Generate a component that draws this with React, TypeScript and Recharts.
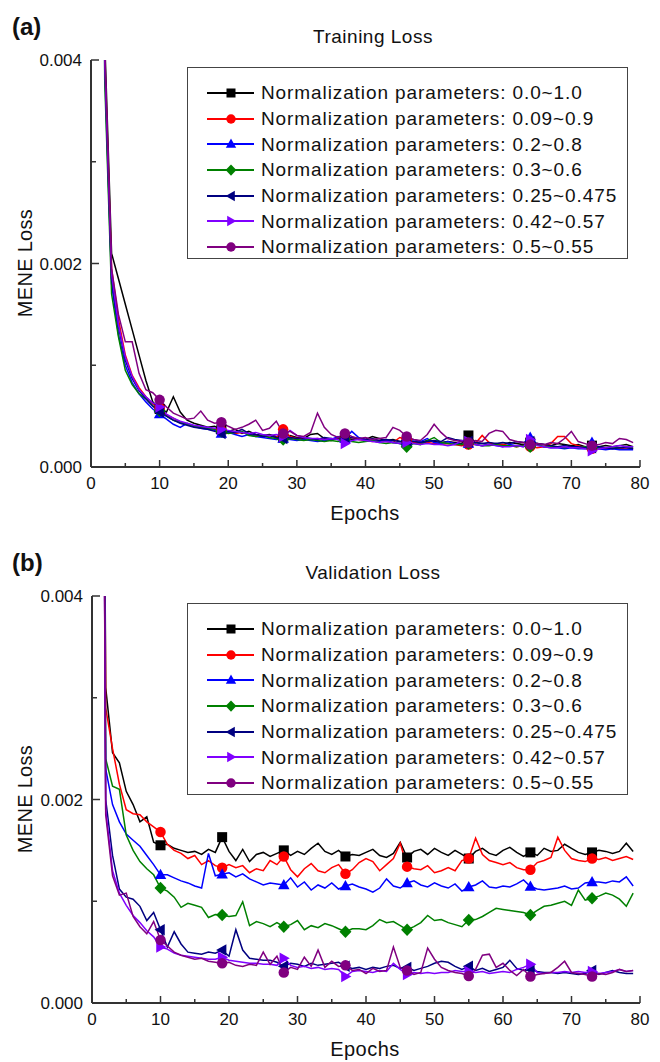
import { LineChart, Line, XAxis, YAxis, Legend } from "recharts";

const FONT = '"Liberation Sans", Arial, sans-serif';
const AXIS = "#333";

const SERIES_NAMES = [
  "Normalization parameters: 0.0~1.0",
  "Normalization parameters: 0.09~0.9",
  "Normalization parameters: 0.2~0.8",
  "Normalization parameters: 0.3~0.6",
  "Normalization parameters: 0.25~0.475",
  "Normalization parameters: 0.42~0.57",
  "Normalization parameters: 0.5~0.55",
];
const SERIES_COLORS = ["#000000", "#ff0000", "#0000ff", "#008000", "#000080", "#8000ff", "#800080"];
const SERIES_SHAPES = ["square", "circle", "triUp", "diamond", "triLeft", "triRight", "hex"];

// markers are only drawn every 9th epoch
const MARKER_EPOCHS = [10, 19, 28, 37, 46, 55, 64, 73];
const X_TICKS = [0, 5, 10, 15, 20, 25, 30, 35, 40, 45, 50, 55, 60, 65, 70, 75, 80];
const Y_TICKS = [0, 10, 20, 30, 40]; // units of 1e-4

// training loss, x1e-4, epochs 1..79
const TRAIN_00_10 = [
  150, 42, 21, 18.5, 16, 13.5, 11, 8.5, 6.4, 5.7,
  5.4, 6.9, 5.4, 4.6, 4.3, 4.1, 3.9, 4.0, 3.7, 3.5,
  3.7, 3.3, 3.5, 3.2, 3.1, 3.2, 3.0, 2.9, 3.1, 2.9,
  2.8, 3.2, 3.3, 2.8, 2.7, 2.8, 2.9, 2.7, 2.8, 2.7,
  3.0, 2.8, 2.6, 2.7, 2.5, 2.4, 2.5, 2.4, 2.6, 2.5,
  2.4, 2.5, 2.4, 2.3, 3.1, 2.4, 2.3, 2.2, 2.3, 2.2,
  2.4, 2.3, 2.2, 2.4, 2.3, 2.2, 2.1, 2.3, 2.2, 2.1,
  2.2, 2.0, 2.1, 2.0, 2.1, 2.0, 2.1, 2.2, 2.0,
];
const TRAIN_009_09 = [
  150, 40, 19.5, 14.5, 11, 9, 7.8, 6.9, 6.2, 5.8,
  5.1, 4.8, 4.4, 4.2, 4.0, 3.9, 3.8, 3.7, 3.6, 3.4,
  3.3, 3.4, 3.2, 3.1, 3.0, 3.1, 2.9, 3.7, 3.0, 2.8,
  2.9, 2.7, 2.8, 2.7, 2.6, 2.9, 2.7, 2.9, 2.7, 2.6,
  2.5, 2.6, 2.5, 2.4, 2.9, 2.7, 2.4, 2.3, 2.4, 2.3,
  2.2, 2.3, 2.2, 2.1, 2.2, 2.3, 3.1, 2.4, 2.2, 2.2,
  2.1, 2.0, 2.1, 2.0, 1.9, 2.0, 2.3, 3.0, 3.0, 2.3,
  2.1, 1.9, 1.8, 1.8, 1.8, 1.9, 1.8, 1.9, 1.8,
];
const TRAIN_02_08 = [
  150, 39, 18, 13, 10, 8.3, 7.2, 6.4, 5.7, 5.2,
  4.7, 4.2, 3.9, 4.3, 4.0, 3.8, 3.7, 3.6, 3.3, 3.4,
  3.2, 3.0, 3.2, 3.0, 2.9, 2.8, 2.7, 2.8, 2.7, 2.6,
  2.7, 2.6, 2.5, 2.6, 2.7, 3.0, 2.8, 3.5, 2.9, 2.7,
  2.6, 2.5, 2.7, 2.4, 2.3, 2.5, 2.7, 2.5, 2.8, 2.4,
  2.3, 2.5, 2.3, 2.2, 2.3, 2.2, 2.1, 2.2, 2.1, 2.0,
  2.2, 2.1, 2.0, 2.9, 2.2, 2.0, 1.9, 1.9, 1.8, 1.9,
  1.8, 1.8, 2.4, 1.8, 1.7, 1.8, 1.7, 1.7, 1.7,
];
const TRAIN_03_06 = [
  150, 38, 17, 12.8, 9.5, 8.1, 7.2, 6.7, 6.0, 5.5,
  5.0, 4.6, 4.4, 4.2, 4.0, 3.9, 3.8, 3.7, 3.5, 3.3,
  3.4, 3.5, 3.1, 3.0, 3.1, 2.9, 2.8, 2.7, 2.8, 2.7,
  2.6, 2.7, 2.6, 2.5, 2.6, 2.5, 2.7, 2.5, 2.4, 2.5,
  2.6, 2.4, 2.3, 2.4, 2.3, 2.0, 2.3, 2.2, 2.6, 2.9,
  2.4, 2.3, 2.2, 2.2, 2.3, 2.2, 2.1, 2.1, 2.2, 2.1,
  2.1, 2.0, 2.1, 2.0, 2.2, 2.0, 2.0, 2.0, 1.9, 2.0,
  1.9, 2.0, 1.9, 1.9, 1.9, 1.9, 1.9, 2.0, 1.9,
];
const TRAIN_025_0475 = [
  150, 40, 18.5, 13.8, 10.5, 8.7, 7.5, 6.7, 6.0, 5.4,
  5.0, 4.6, 4.3, 4.1, 3.9, 3.8, 3.7, 3.5, 3.3, 3.5,
  3.4, 3.7, 3.3, 3.2, 3.0, 3.1, 2.9, 2.8, 2.9, 2.8,
  2.9, 2.8, 2.7, 2.9, 2.8, 2.7, 2.8, 2.9, 2.8, 2.7,
  2.8, 2.6, 2.7, 2.6, 2.5, 2.6, 2.5, 2.4, 2.5, 2.6,
  2.5, 2.9, 2.7, 2.6, 2.5, 2.4, 2.3, 2.4, 2.3, 2.4,
  2.3, 2.5, 2.4, 2.5, 2.3, 2.2, 2.1, 2.0, 2.1, 2.0,
  2.0, 1.9, 1.9, 2.0, 1.9, 1.8, 1.9, 1.9, 1.8,
];
const TRAIN_042_057 = [
  150, 40, 19, 14, 10.8, 8.9, 7.6, 6.9, 6.3, 5.9,
  5.2, 4.8, 4.5, 4.3, 4.1, 4.0, 3.9, 3.8, 3.7, 3.6,
  3.5, 3.4, 3.3, 3.4, 3.2, 3.1, 3.2, 3.0, 3.6, 3.1,
  2.9, 2.8, 2.8, 2.7, 2.8, 2.7, 2.3, 2.6, 2.7, 2.6,
  2.5, 2.4, 2.5, 2.4, 2.3, 2.4, 2.3, 2.2, 2.3, 2.2,
  2.2, 2.1, 2.2, 2.6, 2.5, 2.2, 2.1, 2.2, 2.1, 2.0,
  2.0, 2.1, 2.0, 2.7, 2.1, 2.0, 1.9, 1.9, 2.0, 1.9,
  1.9, 1.8, 1.6, 1.8, 1.9, 2.0, 2.1, 2.0, 2.0,
];
const TRAIN_05_055 = [
  150, 41, 19.5, 15, 12.3, 12.3, 9.2, 7.6, 7.3, 6.6,
  5.9, 5.3, 5.0, 4.7, 4.8, 5.5, 4.6, 4.3, 4.4, 4.0,
  3.7, 3.9, 4.2, 4.6, 3.6, 3.8, 4.5, 3.3, 3.5, 3.1,
  3.0, 3.4, 5.3, 3.9, 3.2, 2.9, 3.3, 3.0, 2.8, 2.9,
  2.7, 2.8, 2.9, 3.9, 3.6, 3.0, 2.7, 2.6, 3.2, 4.2,
  3.4, 2.8, 2.6, 2.5, 2.4, 2.6, 2.5, 3.3, 3.6, 3.5,
  2.7, 2.5, 2.4, 2.2, 2.3, 2.2, 2.4, 2.3, 2.8, 3.5,
  2.5, 2.3, 2.1, 2.2, 2.4, 2.3, 2.8, 2.7, 2.4,
];

// validation loss, x1e-4, epochs 1..79
const VAL_00_10 = [
  150, 31, 24.6, 23.6, 20.8, 19.5, 17.8, 18.3, 15.8, 15.5,
  15.6, 15.2, 15.0, 14.8, 14.9, 14.6, 15.1, 14.8, 16.3, 14.9,
  14.0, 15.1, 13.9, 14.6, 14.8, 14.4, 14.7, 15.0, 14.5, 14.9,
  14.6, 15.2, 15.7, 14.9, 14.6, 15.0, 14.4, 14.6, 14.5, 14.8,
  15.1, 14.5, 14.3, 14.7, 15.8, 14.3, 14.9, 15.1, 14.6, 15.2,
  14.8, 14.5, 15.0, 14.6, 14.2, 14.9, 15.2, 14.7, 14.5, 15.0,
  15.3, 14.8, 14.4, 14.8, 14.5, 15.2, 14.9, 15.0, 15.6, 15.2,
  14.8, 14.6, 14.8, 15.0, 14.9, 14.7, 14.9, 15.7, 14.9,
];
const VAL_009_09 = [
  150, 29, 25, 21.5, 19, 18.6, 18.5, 17.8, 17.3, 16.8,
  15.6, 15.0, 14.7, 14.2, 14.5, 13.6, 14.0, 13.5, 13.3, 13.6,
  13.3, 13.5, 12.8, 13.2, 13.0, 14.0, 13.6, 14.4, 13.1, 12.4,
  13.2, 13.7, 13.0, 12.8, 13.3, 13.6, 12.7, 13.1, 13.8, 14.2,
  13.9, 13.0, 13.6, 14.2, 15.7, 13.4, 13.2, 13.1, 13.5, 12.8,
  13.0, 13.3, 13.0, 14.0, 14.2, 16.2, 14.6, 14.0, 13.8, 13.6,
  13.8, 13.3, 13.1, 13.1, 13.8, 14.0, 14.3, 16.3, 15.0, 14.2,
  14.0, 13.9, 14.2, 14.1, 14.3, 14.0, 14.2, 14.4, 14.1,
];
const VAL_02_08 = [
  150, 23, 19.5, 17.8, 16.6, 16.0, 15.4, 14.5, 13.6, 12.6,
  12.6, 12.3, 12.0, 11.8, 11.5, 11.3, 14.7, 12.5, 12.65, 12.8,
  12.4, 12.7, 12.2, 11.9, 11.6, 11.8, 11.7, 11.6, 12.3, 11.4,
  11.9, 11.1, 11.6, 11.3, 11.8, 11.2, 11.5, 11.7, 11.4, 11.2,
  10.9, 11.3, 12.2, 11.5, 11.3, 11.8, 12.0, 11.6, 11.4, 11.8,
  11.5, 11.3, 11.7, 11.0, 11.4, 11.6, 12.0, 11.4, 11.3, 11.5,
  11.4, 11.7, 12.1, 11.45, 11.2, 11.1, 11.2, 11.3, 11.5, 11.2,
  11.3, 11.8, 11.9, 11.9, 11.8, 12.0, 11.9, 12.4, 11.5,
];
const VAL_03_06 = [
  150, 24, 21.3, 21.0, 16.5, 15.0, 13.9, 13.2, 12.6, 11.3,
  11.0, 10.4, 9.4, 9.8, 9.6, 9.4, 8.4, 8.7, 8.65, 8.5,
  8.6, 9.95, 7.6, 8.0, 7.8, 7.5, 7.9, 7.5, 7.7, 8.1,
  7.2, 7.6, 7.4, 7.8, 7.6, 7.3, 7.0, 7.3, 7.3, 7.2,
  7.6, 8.2, 7.9, 8.0, 7.6, 7.2, 7.5, 7.9, 8.6, 8.1,
  8.2, 7.9, 7.7, 7.5, 8.15, 8.2, 8.5, 8.9, 9.3, 9.2,
  9.1, 9.0, 8.9, 8.65, 9.1, 9.5, 9.6, 9.8, 10.0, 9.6,
  11.1, 10.1, 10.3, 10.5, 10.8, 10.6, 10.2, 9.5, 10.8,
];
const VAL_025_0475 = [
  150, 20, 14.5, 11.2, 10.4, 10.2, 9.5, 8.1, 8.9, 7.2,
  5.5, 7.0, 5.8, 5.0, 4.9, 4.8, 5.0, 4.9, 5.2, 4.6,
  7.2, 5.2, 4.4, 4.3, 4.2, 4.2, 4.0, 3.6, 3.9, 3.8,
  3.6, 3.9, 3.7, 3.8, 3.9, 4.0, 3.6, 3.4, 3.5, 3.3,
  3.5, 3.4, 3.6, 3.7, 3.4, 3.5, 3.2, 3.4, 3.6, 3.9,
  4.1, 4.0, 3.6, 3.3, 3.6, 3.2, 3.4, 3.1, 3.3, 3.5,
  4.2, 3.4, 3.2, 3.3, 3.1, 3.0, 3.0, 2.9, 3.0, 2.9,
  2.8, 2.9, 3.2, 2.8, 3.0, 3.2, 3.0, 2.9, 2.9,
];
const VAL_042_057 = [
  150, 19, 13, 10.8, 9.6, 8.6, 7.9, 7.1, 6.5, 5.5,
  5.3, 4.9, 4.7, 4.6, 4.5, 4.4, 4.3, 4.3, 4.5, 4.2,
  4.1, 4.0, 3.9, 3.9, 3.8, 3.8, 3.7, 4.4, 3.7, 3.5,
  3.6, 3.4, 3.5, 3.3, 3.4, 3.3, 2.6, 3.1, 3.2, 3.1,
  3.0, 3.2, 3.1, 3.9, 3.3, 2.8, 3.0, 2.9, 3.0, 2.9,
  3.0, 3.0, 3.2, 3.1, 3.1, 3.0, 3.1, 2.9, 3.0, 3.1,
  3.0, 3.3, 3.5, 3.8, 3.0, 2.9, 3.0, 3.0, 3.1, 3.0,
  3.1, 3.0, 3.1, 2.9, 3.0, 3.1, 3.3, 3.1, 3.2,
];
const VAL_05_055 = [
  150, 18.5, 12.5, 10.6, 10.8, 8.5, 7.5, 6.8, 8.0, 6.2,
  5.6, 5.0, 4.7, 4.5, 4.3, 4.4, 4.1, 4.0, 3.9, 4.0,
  3.7, 3.6, 3.8, 3.7, 5.0, 3.8, 4.6, 3.0, 3.5, 3.3,
  4.5, 3.6, 5.2, 3.5, 4.1, 3.6, 3.7, 3.2, 3.3, 2.9,
  3.4, 3.1, 3.2, 5.5, 3.5, 3.2, 2.8, 3.0, 5.4, 4.3,
  3.5, 3.2, 3.0, 2.9, 2.65, 3.3, 4.7, 4.8, 3.5, 3.9,
  3.2, 2.7, 3.3, 2.6, 2.8, 2.9, 3.0, 3.5, 4.1, 3.0,
  2.9, 2.8, 2.6, 2.9, 2.8, 3.0, 3.3, 3.1, 3.2,
];

const TRAIN = [TRAIN_00_10, TRAIN_009_09, TRAIN_02_08, TRAIN_03_06, TRAIN_025_0475, TRAIN_042_057, TRAIN_05_055];
const VAL = [VAL_00_10, VAL_009_09, VAL_02_08, VAL_03_06, VAL_025_0475, VAL_042_057, VAL_05_055];

const toRows = (series: number[][]) =>
  series[0].map((_, i) => {
    const row: Record<string, number> = { epoch: i + 1 };
    series.forEach((s, k) => (row[`s${k}`] = s[i]));
    return row;
  });

function Marker({ shape, cx, cy, color, s = 5 }: { shape: string; cx: number; cy: number; color: string; s?: number }) {
  const pts = (p: number[][]) => p.map(([a, b]) => `${cx + a * s},${cy + b * s}`).join(" ");
  switch (shape) {
    case "square":
      return <rect x={cx - s} y={cy - s} width={2 * s} height={2 * s} fill={color} />;
    case "circle":
    case "hex":
      return <circle cx={cx} cy={cy} r={s * 1.05} fill={color} />;
    case "triUp":
      return <polygon points={pts([[0, -1.2], [1.15, 0.85], [-1.15, 0.85]])} fill={color} />;
    case "diamond":
      return <polygon points={pts([[0, -1.25], [1.2, 0], [0, 1.25], [-1.2, 0]])} fill={color} />;
    case "triLeft":
      return <polygon points={pts([[-1.2, 0], [0.85, -1.15], [0.85, 1.15]])} fill={color} />;
    case "triRight":
      return <polygon points={pts([[1.2, 0], [-0.85, -1.15], [-0.85, 1.15]])} fill={color} />;
    default:
      return null;
  }
}

const makeDot = (k: number) => (props: any) => {
  const { cx, cy, payload, index } = props;
  if (!MARKER_EPOCHS.includes(payload.epoch)) return <g key={`d${k}-${index}`} />;
  return (
    <g key={`d${k}-${index}`}>
      <Marker shape={SERIES_SHAPES[k]} cx={cx} cy={cy} color={SERIES_COLORS[k]} />
    </g>
  );
};

const XTick = (props: any) => {
  const { x, y, payload } = props;
  const v = payload.value;
  const major = v % 10 === 0;
  return (
    <g>
      <line x1={x} x2={x} y1={y} y2={y - (major ? 7 : 4)} stroke={AXIS} strokeWidth={1.5} />
      {major && (
        <text x={x} y={y + 22} textAnchor="middle" fontSize={17} fontFamily={FONT} fill="#111">
          {v}
        </text>
      )}
    </g>
  );
};

const YTick = (props: any) => {
  const { x, y, payload } = props;
  const v = payload.value;
  const major = v % 20 === 0;
  return (
    <g>
      <line x1={x} x2={x + (major ? 8 : 5)} y1={y} y2={y} stroke={AXIS} strokeWidth={1.5} />
      {major && (
        <text x={x - 9} y={y + 6} textAnchor="end" fontSize={17} fontFamily={FONT} fill="#111">
          {(v / 10000).toFixed(3)}
        </text>
      )}
    </g>
  );
};

// legend keeps the series order (recharts sorts its payload by name)
const renderLegend = () => (
  <div
    style={{
      width: 441,
      height: 192,
      border: "1.5px solid #444",
      boxSizing: "border-box",
      background: "#fff",
      paddingTop: 12,
    }}
  >
    {SERIES_NAMES.map((name, i) => (
      <div key={name} style={{ display: "flex", alignItems: "center", height: 25.7 }}>
        <svg width={73} height={20} style={{ flex: "none" }}>
          <line x1={19} x2={66} y1={10} y2={10} stroke={SERIES_COLORS[i]} strokeWidth={2} />
          <Marker shape={SERIES_SHAPES[i]} cx={43} cy={10} color={SERIES_COLORS[i]} s={4.5} />
        </svg>
        <span style={{ fontFamily: FONT, fontSize: 19, letterSpacing: 0.9, lineHeight: 1, color: "#111", whiteSpace: "nowrap" }}>
          {name}
        </span>
      </div>
    ))}
  </div>
);

function LossChart({ rows, yAxisWidth }: { rows: Record<string, number>[]; yAxisWidth: number }) {
  return (
    <LineChart width={660} height={500} data={rows} margin={{ top: 60, right: 20, bottom: 0, left: 0 }}>
      <XAxis
        dataKey="epoch"
        type="number"
        domain={[0, 80]}
        ticks={X_TICKS}
        interval={0}
        height={33}
        tickSize={0}
        tickMargin={0}
        tickLine={false}
        tick={<XTick />}
        axisLine={{ stroke: AXIS, strokeWidth: 2 }}
      />
      <XAxis xAxisId="top" orientation="top" dataKey="epoch" type="number" domain={[0, 80]} height={0} tick={false} tickLine={false} axisLine={{ stroke: AXIS, strokeWidth: 2 }} />
      <YAxis
        type="number"
        domain={[0, 40]}
        allowDataOverflow
        ticks={Y_TICKS}
        interval={0}
        width={yAxisWidth}
        tickSize={0}
        tickMargin={0}
        tickLine={false}
        tick={<YTick />}
        axisLine={{ stroke: AXIS, strokeWidth: 2 }}
      />
      <YAxis yAxisId="right" orientation="right" domain={[0, 40]} width={0} tick={false} tickLine={false} axisLine={{ stroke: AXIS, strokeWidth: 2 }} />
      <Legend
        layout="horizontal"
        verticalAlign="middle"
        align="center"
        content={renderLegend}
        wrapperStyle={{ left: 187, top: 67, width: 441 }}
      />
      {SERIES_NAMES.map((name, k) => (
        <Line
          key={name}
          name={name}
          dataKey={`s${k}`}
          stroke={SERIES_COLORS[k]}
          strokeWidth={1.5}
          dot={makeDot(k)}
          activeDot={false}
          isAnimationActive={false}
        />
      ))}
    </LineChart>
  );
}

const textBase = { position: "absolute" as const, fontFamily: FONT, color: "#111", lineHeight: 1, whiteSpace: "nowrap" as const };

function Labels({ top, tag, title }: { top: number; tag: string; title: string }) {
  return (
    <>
      <div style={{ ...textBase, left: 12, top: top + 15, fontSize: 24, fontWeight: "bold" }}>{tag}</div>
      <div style={{ ...textBase, left: 273, width: 200, textAlign: "center", top: top + 27, fontSize: 19, letterSpacing: 0.5 }}>{title}</div>
      <div style={{ ...textBase, left: 265, width: 200, textAlign: "center", top: top + 503, fontSize: 20, letterSpacing: 0.5 }}>Epochs</div>
      <div
        style={{
          ...textBase,
          left: 25 - 60,
          width: 120,
          textAlign: "center",
          top: top + 263 - 10,
          fontSize: 20,
          letterSpacing: 0.3,
          transform: "rotate(-90deg)",
        }}
      >
        MENE Loss
      </div>
    </>
  );
}

export default function App() {
  const trainRows = toRows(TRAIN);
  const valRows = toRows(VAL);
  return (
    <div style={{ position: "relative", width: 660, height: 1062, background: "#fff" }}>
      <style>{"body{margin:0;background:#fff}"}</style>
      <div style={{ position: "absolute", left: 0, top: 0 }}>
        <LossChart rows={trainRows} yAxisWidth={91} />
      </div>
      <div style={{ position: "absolute", left: 0, top: 536 }}>
        <LossChart rows={valRows} yAxisWidth={92} />
      </div>
      <Labels top={0} tag="(a)" title="Training Loss" />
      <Labels top={536} tag="(b)" title="Validation Loss" />
    </div>
  );
}
